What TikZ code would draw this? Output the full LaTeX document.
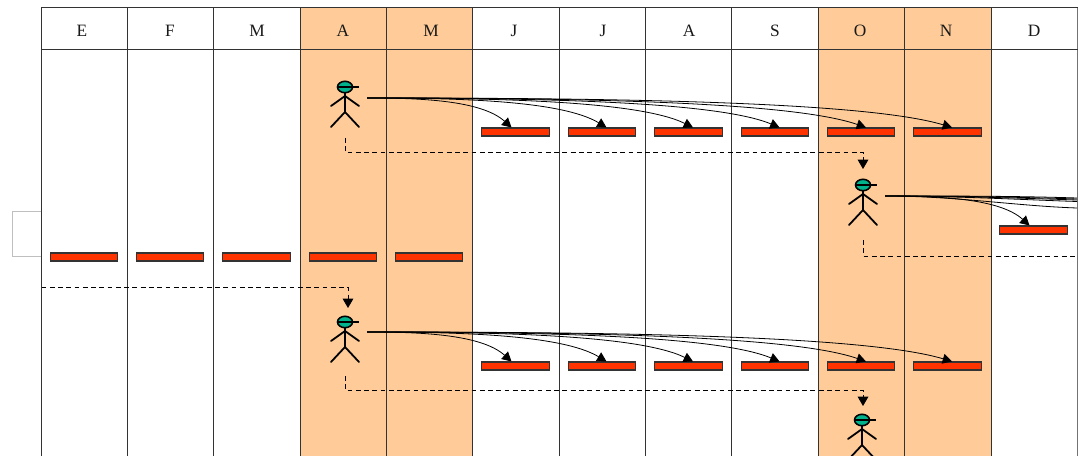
\documentclass[tikz,border=0pt]{standalone}
\usepackage{fontspec}
\setmainfont{Liberation Serif}
\usetikzlibrary{arrows.meta,calc}
\definecolor{peach}{HTML}{FFCC99}
\definecolor{barred}{HTML}{FF3300}
\definecolor{capteal}{HTML}{00B38C}
\tikzset{
  x=0.75pt,y=-0.75pt,
  gridline/.style={line width=1.05pt,draw=black!80},
  barnode/.style={draw=black!80,line width=0.8pt,fill=barred,minimum width=50.5pt,minimum height=6pt,inner sep=0pt},
  month/.style={font=\fontsize{13}{13}\selectfont,inner sep=0pt,text=black!90},
  curved/.style={line width=0.6pt,-{Triangle[length=7pt,width=7.5pt]}},
  curvedplain/.style={line width=0.6pt},
  handoff/.style={line width=0.6pt,dash pattern=on 3.6pt off 2.6pt,-{Triangle[length=7pt,width=8pt,sep=0pt]}},
  handoffplain/.style={line width=0.6pt,dash pattern=on 3.6pt off 2.6pt},
  limb/.style={line width=1.35pt,line cap=round},
}
\newcommand{\actor}[3]{%
  \coordinate (#3) at (#1,#2);
  \draw[fill=capteal,line width=1.2pt] (#3) ellipse [x radius=7.5,y radius=5.7];
  \draw[line width=1.1pt] (#1-7,#2) -- (#1+14,#2);
  \draw[limb] (#1,#2+6) -- (#1,#2+25) (#1-14,#2+19) -- (#1,#2+9) -- (#1+14,#2+19)
     (#1-14,#2+40) -- (#1,#2+25) -- (#1+14,#2+40);
}
% \arc{source}{target}{tip x-offset}{horizontal pull}
\newcommand{\arc}[4]{%
  \draw[curved] let \p1=(#1), \p2=($(#2.north)+(#3,0)$) in
    (#1) .. controls ($(\p1)!0.38!(\x2,\y1)$) and ($(\p2)+(-#4,-27)$) .. (\p2);
}
\begin{document}
\begin{tikzpicture}
\useasboundingbox (0,0) rectangle (1080,456);
\fill[white] (0,0) rectangle (1080,456);
\draw[black!25,line width=0.5pt] (41,211) -- (12,211) -- (12,256) -- (41,256);
\fill[peach] (300,7) rectangle (472.5,456);
\fill[peach] (818,7) rectangle (991,456);
\foreach \xx in {41.5,127.5,213.5,300.5,386.5,472.5,559.5,645.5,731.5,818.5,904.5,991.5}
  \draw[gridline] (\xx,7.5) -- (\xx,456);
\draw[gridline,draw=black!55] (1077.5,7.5) -- (1077.5,456);
\draw[gridline] (41.5,7.5) -- (1077.5,7.5);
\draw[gridline] (41.5,49.5) -- (1077.5,49.5);
\foreach \cx/\lab in {82/E,170/F,257/M,343/A,431/M,514/J,603/J,689/A,775/S,860/O,946/N,1034/D}
  \node[month] at (\cx,31) {\lab};
\foreach \nm/\cx/\cy in {a1/515.5/132,a2/602/132,a3/688.5/132,a4/775/132,a5/861/132,a6/947.5/132,
   b1/1033.5/230,
   c1/84/257,c2/170/257,c3/256.5/257,c4/343/257,c5/429/257,
   d1/515.5/366,d2/602/366,d3/688.5/366,d4/775/366,d5/861/366,d6/947.5/366}
  \node[barnode] (\nm) at (\cx,\cy) {};
\actor{345}{87}{p}
\actor{863}{185}{q}
\actor{345}{322}{r}
\actor{862}{420}{s}
\coordinate (ps) at (367,98);
\coordinate (qs) at (885,196);
\coordinate (rs) at (367,332);
\coordinate (qe1) at (1077,198);
\coordinate (qe2) at (1077,199);
\coordinate (qe3) at (1077,200);
\coordinate (qe4) at (1077,201.5);
\coordinate (qe5) at (1077,208);
\coordinate (lft) at (41.5,287);
\coordinate (rgt) at (1077,256);
\foreach \src/\one/\two/\three/\four/\five/\six in {ps/a1/a2/a3/a4/a5/a6,rs/d1/d2/d3/d4/d5/d6}{
  \arc{\src}{\one}{-4}{30}
  \arc{\src}{\two}{4.5}{45}
  \arc{\src}{\three}{4.5}{55}
  \arc{\src}{\four}{4.5}{65}
  \arc{\src}{\five}{5}{78}
  \arc{\src}{\six}{4.5}{90}
}
\arc{qs}{b1}{-4}{30}
\foreach \e in {qe1,qe2,qe3,qe4,qe5}
  \draw[curvedplain] (qs) .. controls ($(qs)+(70,0)$) and ($(\e)+(-60,-2)$) .. (\e);
\draw[handoff] ($(p)+(0,51)$) |- ($(q)+(0,-33)$) -- ($(q)+(0,-16)$);
\draw[handoff] ($(r)+(0,54)$) |- ($(s)+(1,-30)$) -- ($(s)+(1,-14)$);
\draw[handoffplain] ($(q)+(0,55)$) |- (rgt);
\draw[handoff] (lft) -| ($(r)+(3,-14)$);
\end{tikzpicture}
\end{document}
